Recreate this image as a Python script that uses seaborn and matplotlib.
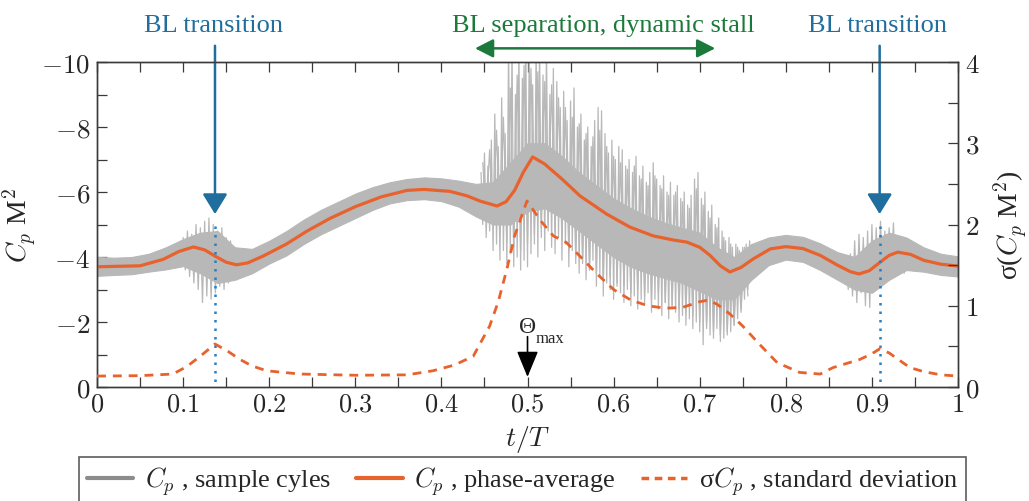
import numpy as np
import pandas as pd
import matplotlib
matplotlib.use("Agg")
import matplotlib.pyplot as plt
import seaborn as sns
from matplotlib.lines import Line2D
from matplotlib.ticker import MultipleLocator, FuncFormatter

# ---------------- data ----------------
# phase-averaged Cp M^2 (left axis, inverted)
pa_t = [0.00, 0.05, 0.077, 0.095, 0.112, 0.125, 0.137, 0.150, 0.162, 0.175, 0.193,
        0.22, 0.244, 0.27, 0.30, 0.33, 0.36, 0.38, 0.41, 0.43, 0.445, 0.4646, 0.475,
        0.485, 0.495, 0.506, 0.52, 0.54, 0.561, 0.592, 0.619, 0.646, 0.67, 0.685,
        0.70, 0.712, 0.724, 0.735, 0.748, 0.762, 0.782, 0.80, 0.82, 0.84, 0.86,
        0.875, 0.885, 0.897, 0.909, 0.92, 0.93, 0.945, 0.96, 0.98, 1.00]
pa_cp = [-3.70, -3.73, -3.93, -4.17, -4.31, -4.22, -4.03, -3.84, -3.76, -3.82, -4.03,
         -4.40, -4.80, -5.18, -5.55, -5.85, -6.05, -6.08, -6.02, -5.88, -5.72, -5.57, -5.70,
         -6.05, -6.60, -7.08, -6.86, -6.40, -5.88, -5.32, -4.92, -4.65, -4.52, -4.46,
         -4.30, -4.05, -3.73, -3.54, -3.68, -3.94, -4.25, -4.32, -4.26, -4.05, -3.75,
         -3.55, -3.48, -3.58, -3.83, -4.05, -4.15, -4.08, -3.90, -3.78, -3.72]

# standard deviation sigma(Cp M^2) (right axis)
sd_t = [0.00, 0.05, 0.088, 0.104, 0.12, 0.137, 0.152, 0.166, 0.18, 0.197, 0.236, 0.30,
        0.36, 0.39, 0.415, 0.437, 0.456, 0.466, 0.476, 0.485, 0.4994, 0.515, 0.53,
        0.545, 0.56, 0.58, 0.60, 0.62, 0.64, 0.66, 0.68, 0.70, 0.71, 0.72, 0.735,
        0.75, 0.77, 0.79, 0.816, 0.84, 0.855, 0.886, 0.90, 0.909, 0.92, 0.944, 0.96,
        0.98, 1.00]
sd_v = [0.135, 0.14, 0.16, 0.25, 0.38, 0.53, 0.44, 0.34, 0.26, 0.20, 0.16, 0.145,
        0.15, 0.20, 0.27, 0.38, 0.75, 1.05, 1.45, 1.86, 2.29, 2.05, 1.86,
        1.78, 1.62, 1.40, 1.20, 1.07, 1.00, 0.97, 0.98, 1.05, 1.07, 1.02, 0.90,
        0.75, 0.52, 0.30, 0.18, 0.16, 0.24, 0.34, 0.41, 0.47, 0.42, 0.24, 0.19,
        0.15, 0.135]

# dense band of the sample cycles (top = most negative, bottom = least negative)
band_t = [0.00, 0.02, 0.04, 0.06, 0.08, 0.10, 0.12, 0.14, 0.16, 0.18, 0.20, 0.22, 0.24,
          0.26, 0.28, 0.30, 0.32, 0.34, 0.36, 0.38, 0.40, 0.42, 0.44, 0.46, 0.48, 0.50,
          0.52, 0.54, 0.56, 0.58, 0.60, 0.62, 0.64, 0.66, 0.68, 0.70, 0.72, 0.74, 0.76,
          0.78, 0.80, 0.82, 0.84, 0.86, 0.88, 0.90, 0.92, 0.94, 0.96, 0.98, 1.00]
band_top = [-4.00, -3.98, -4.00, -4.10, -4.30, -4.55, -4.75, -4.80, -4.30, -4.25, -4.50,
            -4.80, -5.15, -5.45, -5.70, -5.95, -6.15, -6.30, -6.40, -6.45, -6.42, -6.35,
            -6.25, -6.30, -6.90, -7.50, -7.50, -7.10, -6.60, -6.20, -5.80, -5.50, -5.25,
            -5.05, -4.90, -4.75, -4.30, -4.00, -4.40, -4.60, -4.68, -4.62, -4.42, -4.15,
            -4.00, -4.50, -4.75, -4.60, -4.30, -4.10, -4.02]
band_bot = [-3.42, -3.45, -3.47, -3.55, -3.62, -3.72, -3.50, -3.20, -3.30, -3.50, -3.80,
            -4.05, -4.40, -4.70, -4.95, -5.20, -5.45, -5.65, -5.75, -5.78, -5.72, -5.55,
            -5.25, -5.00, -5.00, -5.40, -5.50, -5.20, -4.80, -4.40, -4.00, -3.70, -3.50,
            -3.35, -3.20, -2.95, -2.70, -2.70, -3.30, -3.75, -3.92, -3.85, -3.60, -3.30,
            -3.00, -2.90, -3.30, -3.60, -3.55, -3.45, -3.40]

# individual spikes of the sample cycles in the dynamic-stall region (set 1: outer)
stall_t = [0.446, 0.450, 0.454, 0.458, 0.462, 0.466, 0.470, 0.474, 0.478, 0.482, 0.486,
           0.490, 0.494, 0.498, 0.502, 0.506, 0.510, 0.514, 0.518, 0.522, 0.526, 0.530,
           0.534, 0.538, 0.542, 0.546, 0.550, 0.554, 0.558, 0.562, 0.566, 0.570, 0.574,
           0.578, 0.582, 0.586, 0.590, 0.594, 0.598, 0.602, 0.606, 0.610, 0.614, 0.618,
           0.622, 0.626, 0.630, 0.634, 0.638, 0.642, 0.646, 0.650, 0.654, 0.658, 0.662,
           0.666, 0.670, 0.674, 0.678, 0.682, 0.686, 0.690, 0.694, 0.698, 0.702, 0.706,
           0.710, 0.714, 0.718, 0.722, 0.726, 0.730, 0.734, 0.738, 0.742, 0.746, 0.750,
           0.754, 0.758]
stall_hi = [-6.6, -7.2, -6.8, -7.6, -8.4, -7.4, -8.9, -7.8, -10.5, -10.5, -9.0,
            -10.5, -9.5, -10.5, -10.5, -9.3, -10.5, -10.5, -9.6, -10.5, -9.0, -9.8,
            -9.4, -8.6, -9.1, -8.2, -8.8, -9.2, -8.0, -8.4, -7.6, -8.0, -7.4,
            -8.2, -8.6, -8.5, -7.8, -7.2, -7.6, -7.0, -7.4, -7.3, -6.8, -7.0,
            -6.6, -7.1, -6.5, -6.8, -6.3, -6.6, -6.9, -6.4, -6.2, -6.5, -6.0,
            -6.3, -5.9, -6.2, -5.8, -6.0, -5.6, -5.9, -6.4, -6.6, -5.8, -6.0,
            -5.4, -5.6, -5.0, -5.2, -4.8, -4.5, -4.6, -4.3, -4.4, -4.2, -4.3,
            -4.4, -4.5]
stall_lo = [-5.0, -4.6, -4.8, -4.2, -4.4, -3.9, -4.2, -3.8, -4.1, -3.7, -4.0,
            -3.6, -3.9, -3.7, -4.1, -4.4, -4.0, -4.6, -4.2, -4.8, -4.3, -4.1,
            -4.6, -3.9, -4.4, -3.7, -4.2, -3.8, -3.5, -4.0, -3.3, -3.6, -3.9,
            -3.1, -3.4, -2.8, -3.2, -3.0, -2.7, -3.1, -2.9, -2.6, -3.0, -2.5,
            -2.8, -2.4, -2.7, -2.6, -2.9, -2.3, -2.7, -2.4, -2.2, -2.6, -2.1,
            -2.5, -2.3, -2.0, -2.2, -1.9, -2.1, -1.8, -2.0, -1.7, -1.3, -2.0,
            -1.6, -1.5, -1.8, -1.4, -1.5, -1.6, -1.7, -1.9, -2.1, -2.4, -2.7,
            -3.0, -3.3]

# set 2: intermediate cycles in the stall region
s2_t = [0.448, 0.456, 0.464, 0.472, 0.480, 0.488, 0.496, 0.504, 0.512, 0.520, 0.528,
        0.536, 0.544, 0.552, 0.560, 0.568, 0.576, 0.584, 0.592, 0.600, 0.608, 0.616,
        0.624, 0.632, 0.640, 0.648, 0.656, 0.664, 0.672, 0.680, 0.688, 0.696, 0.704,
        0.712, 0.720, 0.728, 0.736, 0.744, 0.752]
s2_hi = [-6.9, -7.3, -7.9, -8.3, -9.2, -9.6, -9.9, -9.8, -9.7, -9.4, -9.3,
         -8.9, -8.6, -8.3, -8.1, -7.8, -7.7, -7.9, -7.4, -7.1, -6.9, -6.7,
         -6.8, -6.4, -6.2, -6.5, -6.1, -5.9, -6.0, -5.7, -5.5, -6.1, -5.6,
         -5.2, -4.9, -4.6, -4.4, -4.3, -4.3]
s2_lo = [-5.3, -5.0, -4.7, -4.5, -4.3, -4.2, -4.4, -4.7, -4.9, -5.0, -4.8,
         -4.5, -4.2, -4.0, -3.8, -3.6, -3.5, -3.3, -3.4, -3.2, -3.1, -2.9,
         -3.0, -2.8, -2.7, -2.9, -2.6, -2.5, -2.4, -2.3, -2.2, -2.0, -1.8,
         -1.7, -1.6, -1.7, -1.9, -2.3, -2.8]

# spikes around the two boundary-layer transitions
tr1_t = [0.100, 0.105, 0.110, 0.115, 0.120, 0.125, 0.130, 0.135, 0.140, 0.145,
         0.150, 0.155, 0.160, 0.165, 0.170]
tr1_hi = [-4.6, -4.8, -4.7, -5.0, -4.9, -5.1, -5.2, -5.0, -4.8, -4.9, -4.6, -4.5,
          -4.3, -4.2, -4.1]
tr1_lo = [-3.6, -3.4, -3.2, -3.0, -2.6, -2.8, -2.7, -2.9, -3.1, -3.0, -3.2, -3.4,
          -3.3, -3.5, -3.6]
tr2_t = [0.870, 0.875, 0.880, 0.885, 0.890, 0.895, 0.900, 0.905, 0.910, 0.915,
         0.920, 0.925, 0.930, 0.935, 0.940]
tr2_hi = [-4.0, -4.1, -4.5, -4.7, -4.6, -4.8, -5.0, -4.9, -5.1, -4.8, -4.9, -5.05,
          -4.6, -4.5, -4.4]
tr2_lo = [-3.0, -2.8, -2.6, -2.9, -2.5, -2.45, -3.0, -3.2, -3.3, -3.4, -3.5, -3.4,
          -3.6, -3.5, -3.6]

x_ticks = [0, 0.1, 0.2, 0.3, 0.4, 0.5, 0.6, 0.7, 0.8, 0.9, 1]
transition_t = [0.137, 0.909]
stall_span = [0.439, 0.718]
theta_max_t = 0.5

legend_labels = [r"$C_p$ , sample cyles", r"$C_p$ , phase-average",
                 r"σ$C_p$ , standard deviation"]

# ---------------- style ----------------
sns.set_style("ticks")
plt.rcParams["font.family"] = ["Liberation Serif", "DejaVu Serif"]
plt.rcParams["mathtext.fontset"] = "cm"
plt.rcParams["axes.unicode_minus"] = True

GRAY = "#b8b8b8"
ORANGE = "#e8622d"
BLUE = "#1f6e9e"
BLUE_DOT = "#2a80c0"
GREEN = "#1b7a3b"
SPINE = "#3a3a3a"

fig = plt.figure(figsize=(10.29, 5.02), dpi=100)
ax = fig.add_axes([0.0943, 0.227, 0.8367, 0.6475])
ax2 = ax.twinx()

# sample cycles
ax.fill_between(band_t, band_top, band_bot, color=GRAY, lw=0.8, zorder=1)
zx, zy = [], []
for t, hi, lo in zip(stall_t, stall_hi, stall_lo):
    zx += [t, t + 0.002]
    zy += [hi, lo]
ax.plot(zx, zy, color=GRAY, lw=0.9, zorder=1)
zx, zy = [], []
for t, hi, lo in zip(s2_t, s2_hi, s2_lo):
    zx += [t, t + 0.004]
    zy += [hi, lo]
ax.plot(zx, zy, color=GRAY, lw=0.9, zorder=1)
for tt, hh, ll in [(tr1_t, tr1_hi, tr1_lo), (tr2_t, tr2_hi, tr2_lo)]:
    xx, yy = [], []
    for t, hi, lo in zip(tt, hh, ll):
        xx += [t, t + 0.0025]
        yy += [hi, lo]
    ax.plot(xx, yy, color=GRAY, lw=0.9, zorder=1)

# phase average
df_pa = pd.DataFrame({"t": pa_t, "cp": pa_cp})
sns.lineplot(data=df_pa, x="t", y="cp", ax=ax, color=ORANGE, lw=2.3,
             errorbar=None, zorder=3)

# standard deviation
df_sd = pd.DataFrame({"t": sd_t, "sd": sd_v})
sns.lineplot(data=df_sd, x="t", y="sd", ax=ax2, color=ORANGE, lw=2.0,
             linestyle=(0, (3.2, 2.5)), errorbar=None, zorder=3)

# limits / ticks
ax.set_xlim(0, 1)
ax.set_ylim(0, -10)
ax2.set_ylim(0, 4)
fmt = FuncFormatter(lambda v, p: f"${v:g}$")
ax.set_xticks(x_ticks)
ax.xaxis.set_minor_locator(MultipleLocator(0.05))
ax.yaxis.set_major_locator(MultipleLocator(2))
ax.yaxis.set_minor_locator(MultipleLocator(1))
ax2.yaxis.set_major_locator(MultipleLocator(1))
ax2.yaxis.set_minor_locator(MultipleLocator(0.5))
ax.xaxis.set_major_formatter(fmt)
ax.yaxis.set_major_formatter(fmt)
ax2.yaxis.set_major_formatter(fmt)
ax.tick_params(axis="x", which="both", direction="in", top=True, length=7,
               width=0.9, color=SPINE, labelsize=19, pad=5)
ax.tick_params(axis="y", which="both", direction="in", right=False, length=7,
               width=0.9, color=SPINE, labelsize=19.5, pad=5)
ax2.tick_params(axis="y", which="both", direction="in", length=7, width=0.9,
                color=SPINE, labelsize=19.5, pad=5)
for a in (ax, ax2):
    for s in a.spines.values():
        s.set_color(SPINE)
        s.set_linewidth(1.0)

ax.set_xlabel(r"$t/T$", fontsize=20, labelpad=5)
ax.set_ylabel(r"$C_p$ M$^2$", fontsize=20)
ax.yaxis.set_label_coords(-0.068, 0.5)
ax2.set_ylabel(r"σ($C_p$ M$^2$)", fontsize=20, labelpad=8)

# annotations: BL transition
for t, tx in zip(transition_t, [0.135, 0.907]):
    ax.plot([t, t], [-4.95, 0], color=BLUE_DOT, lw=1.8,
            linestyle=(0, (1, 2.4)), zorder=4)
    ax.annotate("", xy=(t, -5.32), xytext=(t, -10.5), xycoords="data",
                arrowprops=dict(arrowstyle="-|>,head_length=0.62,head_width=0.38",
                                mutation_scale=20, color=BLUE, lw=1.8,
                                shrinkA=0, shrinkB=0),
                annotation_clip=False, zorder=5)
    ax.text(tx, -11.15, "BL transition", ha="center", va="center",
            color=BLUE, fontsize=19)

# BL separation arrow
ax.annotate("", xy=(stall_span[1], -10.42), xytext=(stall_span[0], -10.42),
            arrowprops=dict(arrowstyle="<|-|>,head_length=0.55,head_width=0.28",
                            mutation_scale=20, color=GREEN, lw=1.8,
                            shrinkA=0, shrinkB=0),
            annotation_clip=False)
ax.text(0.588, -11.15, "BL separation, dynamic stall", ha="center", va="center",
        color=GREEN, fontsize=19)

# Theta max
ax.annotate("", xy=(theta_max_t, -0.31), xytext=(theta_max_t, -1.55),
            arrowprops=dict(arrowstyle="-|>,head_length=0.8,head_width=0.33",
                            mutation_scale=20, color="black", lw=1.2,
                            shrinkA=0, shrinkB=0))
ax.text(theta_max_t, -1.85, "Θ", ha="center", va="center", fontsize=17)
ax.text(theta_max_t + 0.009, -1.5, "max", ha="left", va="center", fontsize=12)

# legend
handles = [Line2D([], [], color="#8c8c8c", lw=3.0),
           Line2D([], [], color=ORANGE, lw=3.0),
           Line2D([], [], color=ORANGE, lw=2.5, linestyle=(0, (2.2, 1.6)))]
leg = fig.legend(handles, legend_labels, loc="lower center",
                 bbox_to_anchor=(0.508, -0.035), ncol=3, frameon=True,
                 fancybox=False, edgecolor="#333333", fontsize=19,
                 handlelength=1.75, handletextpad=0.45, columnspacing=0.95,
                 borderpad=0.3)
leg.get_frame().set_linewidth(1.2)

fig.savefig("out.png", dpi=100)
